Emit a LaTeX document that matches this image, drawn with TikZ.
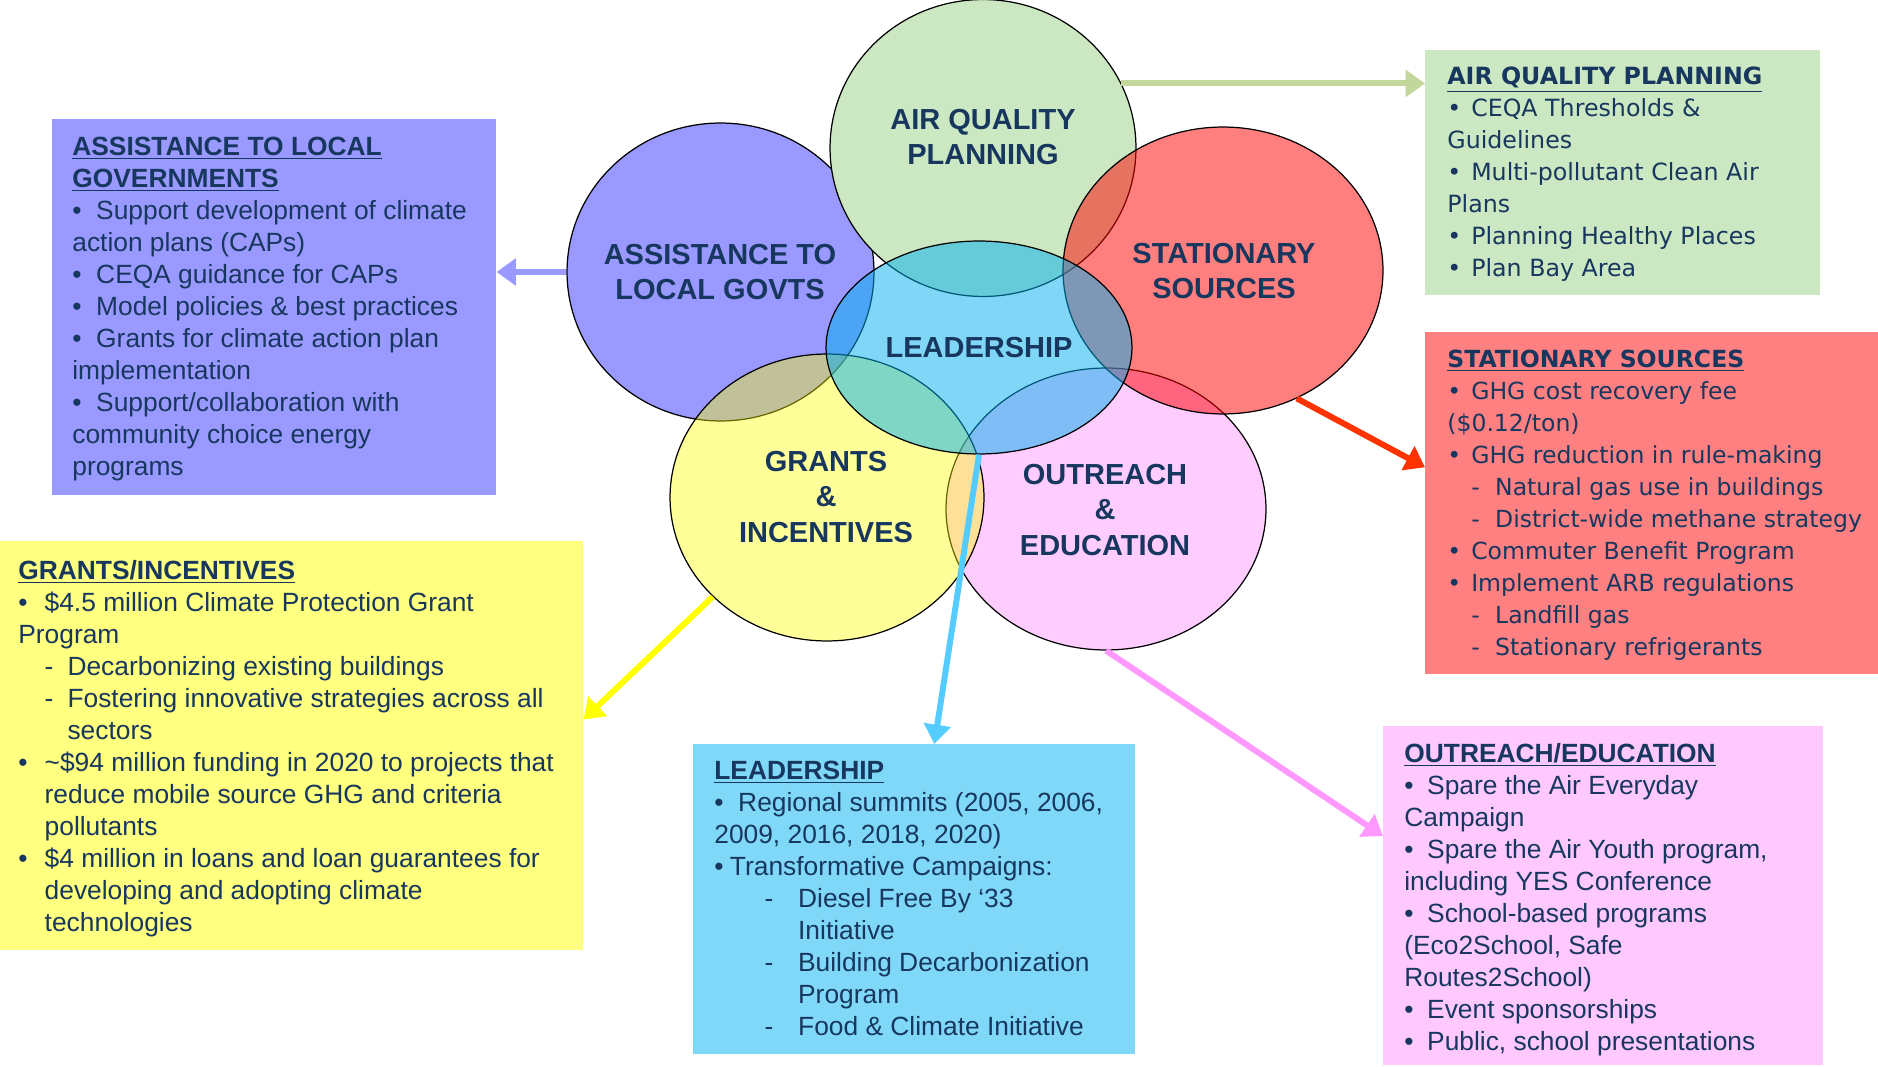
\documentclass[tikz,border=0pt]{standalone}
\usepackage{fontspec}
\setmainfont{Liberation Sans}
\newfontfamily\vfont{DejaVu Sans}
\usetikzlibrary{shapes.geometric,arrows.meta,positioning}

\definecolor{navy}{HTML}{17375E}
\definecolor{cgreen}{HTML}{CCE8C2}
\definecolor{cblue}{HTML}{9999FF}
\definecolor{cred}{HTML}{FF0000}
\definecolor{bred}{HTML}{FF8080}
\definecolor{cyellow}{HTML}{FFFF00}
\definecolor{cpink}{HTML}{FFCCFF}
\definecolor{ccyan}{HTML}{00AFEF}
\definecolor{byellow}{HTML}{FFFF80}
\definecolor{bcyan}{HTML}{80D8F8}
\definecolor{bpink}{HTML}{FFC8FF}
\definecolor{agreen}{HTML}{C3D69B}
\definecolor{ared}{HTML}{FF3300}
\definecolor{ayellow}{HTML}{FFFF00}
\definecolor{acyan}{HTML}{55CCFF}
\definecolor{apink}{HTML}{FF99FF}

\newcommand{\bul}[1][13.6pt]{\makebox[#1][l]{\textbullet}}
\newcommand{\dsh}[1][13.6pt]{\makebox[#1][l]{-}}
\newcommand{\ind}[1][13.6pt]{\hspace*{#1}}
\newcommand{\ttl}[1]{\textbf{\underline{#1}}}

\begin{document}
\begin{tikzpicture}[x=0.02cm, y=-0.02cm,
    bubble/.style={ellipse, draw=black, line width=0.7pt, inner sep=0pt},
    bubbletext/.style={align=center, inner sep=0pt, text=navy, font=\fontsize{16.5}{20}\selectfont\bfseries},
    panel/.style={rectangle, inner sep=0pt, anchor=north west},
    paneltext/.style={align=left, anchor=north west, inner sep=0pt, text=navy, font=\fontsize{15}{18.2}\selectfont},
    link/.style={line width=3.4pt, -{Triangle[length=11pt,width=15pt]}}]

    \useasboundingbox (0,0) rectangle (1878,1067);
    \fill[white] (0,0) rectangle (1878,1067);

    \foreach \n/\x/\y/\w/\h/\c/\o in {ltg/720.5/272/6.14/5.96/cblue/1, aqp/983/148/6.12/5.94/cgreen/1,
        oe/1106/509/6.4/5.64/cpink/1, ss/1223/270.5/6.4/5.74/cred/0.5,
        gi/827/497.5/6.28/5.74/cyellow/0.4, lead/979/347.5/6.12/4.26/ccyan/0.5}
        \node[bubble, fill=\c, fill opacity=\o, minimum width=\w cm, minimum height=\h cm] (\n) at (\x,\y) {};

    \node[bubbletext] (aqplbl) at (983,137) {AIR QUALITY\\PLANNING};
    \node[bubbletext] (ltglbl) at (720,272) {ASSISTANCE TO\\LOCAL GOVTS};
    \node[bubbletext] (sslbl) at (1224,271) {STATIONARY\\SOURCES};
    \node[bubbletext] (leadlbl) at (979,348) {LEADERSHIP};
    \node[bubbletext] (gilbl) at (826,497) {GRANTS\\\&\\INCENTIVES};
    \node[bubbletext] (oelbl) at (1105,510) {OUTREACH\\\&\\EDUCATION};

    \foreach \n/\x/\y/\w/\h/\c in {ltgbox/51.5/118.6/8.89/7.52/cblue, aqpbox/1425/50/7.9/4.9/cgreen,
        ssbox/1425/332/9.06/6.84/bred, gibox/0/541/11.66/8.18/byellow,
        leadbox/693/744/8.84/6.2/bcyan, oebox/1383/726/8.8/6.78/bpink}
        \node[panel, fill=\c, minimum width=\w cm, minimum height=\h cm] (\n) at (\x,\y) {};

    \node[paneltext] (ltgtext) at (72,136.5) {\ttl{ASSISTANCE TO LOCAL}\\
        \ttl{GOVERNMENTS}\\
        \bul Support development of climate\\
        action plans (CAPs)\\
        \bul CEQA guidance for CAPs\\
        \bul Model policies \& best practices\\
        \bul Grants for climate action plan\\
        implementation\\
        \bul Support/collaboration with\\
        community choice energy\\
        programs};

    \node[paneltext, font=\vfont\fontsize{13.5}{18.2}\selectfont] (aqptext) at (1447,67) {\ttl{AIR QUALITY PLANNING}\\
        \bul CEQA Thresholds \&\\
        Guidelines\\
        \bul Multi-pollutant Clean Air\\
        Plans\\
        \bul Planning Healthy Places\\
        \bul Plan Bay Area};

    \node[paneltext, font=\vfont\fontsize{13.4}{18.2}\selectfont] (sstext) at (1447,349.5) {\ttl{STATIONARY SOURCES}\\
        \bul GHG cost recovery fee\\
        (\$0.12/ton)\\
        \bul GHG reduction in rule-making\\
        \ind\dsh Natural gas use in buildings\\
        \ind\dsh District-wide methane strategy\\
        \bul Commuter Benefit Program\\
        \bul Implement ARB regulations\\
        \ind\dsh Landfill gas\\
        \ind\dsh Stationary refrigerants};

    \node[paneltext] (gitext) at (18,560) {\ttl{GRANTS/INCENTIVES}\\
        \bul[15pt]\$4.5 million Climate Protection Grant\\
        Program\\
        \ind[15pt]\dsh[13pt]Decarbonizing existing buildings\\
        \ind[15pt]\dsh[13pt]Fostering innovative strategies across all\\
        \ind[28pt]sectors\\
        \bul[15pt]\textasciitilde\$94 million funding in 2020 to projects that\\
        \ind[15pt]reduce mobile source GHG and criteria\\
        \ind[15pt]pollutants\\
        \bul[15pt]\$4 million in loans and loan guarantees for\\
        \ind[15pt]developing and adopting climate\\
        \ind[15pt]technologies};

    \node[paneltext] (leadtext) at (714,761) {\ttl{LEADERSHIP}\\
        \bul Regional summits (2005, 2006,\\
        2009, 2016, 2018, 2020)\\
        \bul[8.9pt]Transformative Campaigns:\\
        \ind[28.6pt]\dsh[19.1pt]Diesel Free By \textquoteleft 33\\
        \ind[47.7pt]Initiative\\
        \ind[28.6pt]\dsh[19.1pt]Building Decarbonization\\
        \ind[47.7pt]Program\\
        \ind[28.6pt]\dsh[19.1pt]Food \& Climate Initiative};

    \node[paneltext] (oetext) at (1404,743) {\ttl{OUTREACH/EDUCATION}\\
        \bul[13pt]Spare the Air Everyday\\
        Campaign\\
        \bul[13pt]Spare the Air Youth program,\\
        including YES Conference\\
        \bul[13pt]School-based programs\\
        (Eco2School, Safe\\
        Routes2School)\\
        \bul[13pt]Event sponsorships\\
        \bul[13pt]Public, school presentations};

    \draw[link, cblue] (ltg.west) -- (ltgbox.east |- ltg.west);
    \draw[link, agreen] (aqp.25) -- (aqpbox.west |- aqp.25);
    \draw[link, ared] (ss.-60) -- ([yshift=20.5pt]ssbox.west);
    \draw[link, ayellow] (gi.221) -- ([yshift=15pt]gibox.east);
    \draw[link, acyan] (lead.south) -- ([xshift=11.4pt]leadbox.north);
    \draw[link, apink] (oe.south) -- ([yshift=34pt]oebox.west);
\end{tikzpicture}
\end{document}
